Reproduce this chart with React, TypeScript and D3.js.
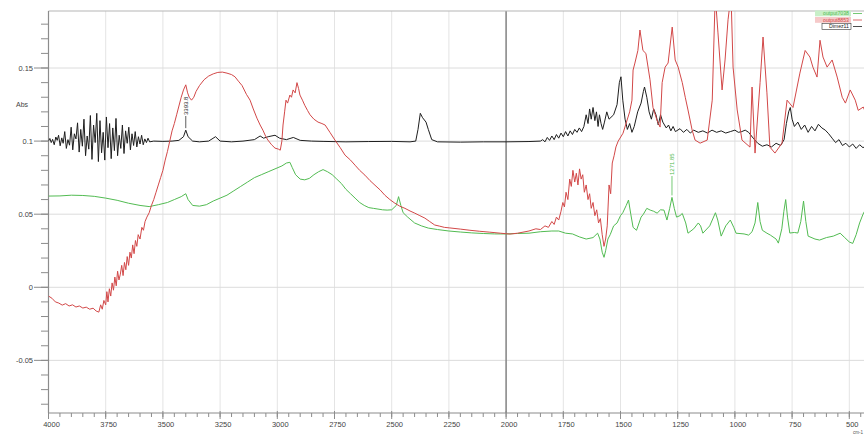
import { useRef, useEffect } from 'react'
import * as d3 from 'd3'

// spectra: [wavenumber cm-1, absorbance]
const dimez11: [number, number][] = [
  [4000, 0.1000], [3994, 0.1018], [3988, 0.0990], [3982, 0.1012], [3975, 0.0975], [3968, 0.1028],
  [3962, 0.1005], [3956, 0.1040], [3949, 0.0968], [3942, 0.1022], [3936, 0.0985], [3929, 0.1065],
  [3922, 0.0950], [3915, 0.1010], [3908, 0.0972], [3901, 0.1095], [3894, 0.0940], [3887, 0.1050],
  [3880, 0.1015], [3873, 0.1125], [3866, 0.0925], [3859, 0.1080], [3852, 0.0965], [3845, 0.1150],
  [3838, 0.0900], [3831, 0.1035], [3824, 0.0945], [3817, 0.1175], [3810, 0.0875], [3803, 0.1110],
  [3796, 0.0990], [3789, 0.1190], [3782, 0.0860], [3775, 0.1140], [3768, 0.0920], [3761, 0.1060],
  [3754, 0.0870], [3747, 0.1165], [3740, 0.0955], [3733, 0.1120], [3726, 0.0880], [3719, 0.1090],
  [3712, 0.0935], [3705, 0.1155], [3698, 0.0900], [3691, 0.1040], [3684, 0.0950], [3677, 0.1110],
  [3670, 0.0915], [3663, 0.1070], [3656, 0.0985], [3649, 0.1095], [3642, 0.0940], [3635, 0.1050],
  [3628, 0.0970], [3621, 0.1065], [3614, 0.0960], [3607, 0.1030], [3600, 0.0980], [3593, 0.1040],
  [3586, 0.0975], [3579, 0.1015], [3572, 0.0990], [3565, 0.1020], [3558, 0.0995], [3540, 0.1000],
  [3500, 0.0998], [3460, 0.1000], [3430, 0.1005], [3410, 0.1030], [3400, 0.1075], [3390, 0.1030],
  [3370, 0.1000], [3340, 0.0995], [3300, 0.1000], [3270, 0.1030], [3250, 0.1000], [3200, 0.0995],
  [3150, 0.1000], [3100, 0.1010], [3075, 0.1035], [3060, 0.1020], [3040, 0.1030], [3010, 0.1040],
  [2990, 0.1020], [2960, 0.1010], [2930, 0.1025], [2900, 0.1005], [2850, 0.1000], [2800, 0.0998],
  [2700, 0.0995], [2600, 0.0997], [2500, 0.0998], [2420, 0.0995], [2395, 0.1000], [2385, 0.1080],
  [2375, 0.1190], [2365, 0.1160], [2350, 0.1130], [2340, 0.1080], [2325, 0.1010], [2300, 0.0995],
  [2200, 0.0993], [2100, 0.0995], [2000, 0.0995], [1900, 0.0997], [1850, 0.1000], [1840, 0.1010],
  [1830, 0.0995], [1820, 0.1025], [1810, 0.1005], [1800, 0.1035], [1790, 0.1010], [1780, 0.1045],
  [1770, 0.1020], [1760, 0.1055], [1750, 0.1030], [1740, 0.1065], [1730, 0.1035], [1720, 0.1070],
  [1710, 0.1045], [1700, 0.1080], [1690, 0.1060], [1680, 0.1090], [1670, 0.1065], [1660, 0.1100],
  [1650, 0.1180], [1642, 0.1120], [1635, 0.1220], [1628, 0.1150], [1620, 0.1230], [1612, 0.1140],
  [1605, 0.1200], [1598, 0.1100], [1592, 0.1180], [1585, 0.1120], [1578, 0.1080], [1570, 0.1130],
  [1560, 0.1200], [1550, 0.1150], [1530, 0.1180], [1515, 0.1250], [1505, 0.1400], [1498, 0.1440],
  [1490, 0.1280], [1480, 0.1150], [1470, 0.1080], [1460, 0.1120], [1450, 0.1060], [1440, 0.1100],
  [1425, 0.1200], [1410, 0.1260], [1400, 0.1340], [1395, 0.1370], [1385, 0.1300], [1375, 0.1200],
  [1365, 0.1150], [1355, 0.1220], [1345, 0.1180], [1335, 0.1110], [1325, 0.1180], [1315, 0.1130],
  [1300, 0.1090], [1290, 0.1110], [1280, 0.1070], [1270, 0.1100], [1260, 0.1065], [1240, 0.1085],
  [1225, 0.1060], [1210, 0.1080], [1195, 0.1055], [1180, 0.1075], [1160, 0.1060], [1140, 0.1070],
  [1120, 0.1055], [1100, 0.1075], [1080, 0.1060], [1060, 0.1070], [1040, 0.1055], [1020, 0.1065],
  [1000, 0.1075], [985, 0.1060], [970, 0.1065], [955, 0.1075], [940, 0.1060], [920, 0.1020],
  [900, 0.0985], [880, 0.0965], [860, 0.0975], [840, 0.0960], [820, 0.0985], [800, 0.0970],
  [785, 0.1010], [775, 0.1120], [765, 0.1200], [758, 0.1230], [750, 0.1150], [740, 0.1100],
  [725, 0.1130], [710, 0.1080], [695, 0.1110], [680, 0.1060], [665, 0.1100], [650, 0.1070],
  [635, 0.1115], [620, 0.1090], [605, 0.1075], [590, 0.1050], [575, 0.1020], [560, 0.0990],
  [545, 0.1010], [530, 0.0970], [515, 0.0985], [500, 0.0960], [485, 0.0980], [470, 0.0950],
  [455, 0.0975], [440, 0.0955], [430, 0.0965],
]

const output8853: [number, number][] = [
  [4000, -0.0060], [3985, -0.0075], [3970, -0.0100], [3955, -0.0108], [3940, -0.0122], [3925, -0.0112],
  [3910, -0.0128], [3895, -0.0120], [3880, -0.0135], [3865, -0.0128], [3850, -0.0142], [3835, -0.0136],
  [3820, -0.0150], [3805, -0.0143], [3792, -0.0162], [3780, -0.0170], [3772, -0.0120], [3765, -0.0150],
  [3758, -0.0090], [3750, -0.0120], [3745, -0.0030], [3740, -0.0100], [3734, -0.0010], [3728, -0.0060],
  [3722, 0.0030], [3716, -0.0020], [3710, 0.0070], [3704, 0.0010], [3698, 0.0110], [3692, 0.0050],
  [3686, 0.0090], [3680, 0.0150], [3674, 0.0080], [3668, 0.0170], [3662, 0.0120], [3656, 0.0210],
  [3650, 0.0150], [3644, 0.0240], [3638, 0.0200], [3632, 0.0290], [3626, 0.0230], [3620, 0.0320],
  [3614, 0.0280], [3608, 0.0360], [3600, 0.0330], [3592, 0.0410], [3585, 0.0390], [3578, 0.0450],
  [3570, 0.0480], [3560, 0.0510], [3550, 0.0560], [3540, 0.0600], [3530, 0.0650], [3520, 0.0700],
  [3510, 0.0750], [3500, 0.0800], [3490, 0.0870], [3480, 0.0930], [3470, 0.1000], [3460, 0.1070],
  [3450, 0.1120], [3440, 0.1180], [3430, 0.1240], [3420, 0.1300], [3410, 0.1350], [3400, 0.1385],
  [3392, 0.1330], [3385, 0.1300], [3375, 0.1280], [3365, 0.1300], [3355, 0.1340], [3340, 0.1380],
  [3320, 0.1420], [3300, 0.1445], [3280, 0.1460], [3260, 0.1470], [3240, 0.1472], [3220, 0.1465],
  [3200, 0.1455], [3185, 0.1440], [3170, 0.1410], [3154, 0.1380], [3135, 0.1320], [3119, 0.1280],
  [3105, 0.1220], [3089, 0.1157], [3075, 0.1110], [3063, 0.1075], [3050, 0.1030], [3041, 0.1007],
  [3025, 0.0975], [3010, 0.0952], [2995, 0.0945], [2987, 0.0938], [2980, 0.1000], [2975, 0.1110],
  [2968, 0.1200], [2962, 0.1280], [2955, 0.1260], [2945, 0.1315], [2938, 0.1300], [2931, 0.1350],
  [2922, 0.1330], [2914, 0.1400], [2907, 0.1360], [2901, 0.1315], [2890, 0.1280], [2880, 0.1245],
  [2868, 0.1210], [2857, 0.1180], [2840, 0.1150], [2822, 0.1130], [2805, 0.1120], [2791, 0.1110],
  [2770, 0.1060], [2748, 0.1007], [2725, 0.0955], [2704, 0.0904], [2680, 0.0870], [2660, 0.0835],
  [2640, 0.0800], [2617, 0.0767], [2595, 0.0730], [2573, 0.0698], [2550, 0.0665], [2530, 0.0630],
  [2508, 0.0600], [2486, 0.0575], [2465, 0.0555], [2442, 0.0540], [2420, 0.0522], [2399, 0.0507],
  [2377, 0.0490], [2355, 0.0473], [2334, 0.0450], [2312, 0.0426], [2290, 0.0418], [2270, 0.0410],
  [2246, 0.0406], [2200, 0.0398], [2158, 0.0390], [2115, 0.0383], [2071, 0.0377], [2025, 0.0370],
  [1983, 0.0364], [1950, 0.0370], [1900, 0.0385], [1870, 0.0400], [1850, 0.0395], [1830, 0.0420],
  [1815, 0.0410], [1800, 0.0450], [1790, 0.0430], [1780, 0.0480], [1770, 0.0460], [1760, 0.0520],
  [1752, 0.0580], [1745, 0.0550], [1738, 0.0650], [1730, 0.0600], [1722, 0.0740], [1715, 0.0690],
  [1708, 0.0800], [1700, 0.0720], [1693, 0.0780], [1686, 0.0700], [1679, 0.0810], [1672, 0.0740],
  [1665, 0.0770], [1658, 0.0650], [1650, 0.0700], [1642, 0.0600], [1635, 0.0640], [1628, 0.0540],
  [1620, 0.0580], [1612, 0.0490], [1604, 0.0530], [1596, 0.0440], [1588, 0.0470], [1580, 0.0360],
  [1572, 0.0280], [1565, 0.0330], [1558, 0.0420], [1550, 0.0700], [1543, 0.0640], [1536, 0.0850],
  [1528, 0.0900], [1520, 0.0960], [1510, 0.1000], [1489, 0.1054], [1460, 0.1200], [1450, 0.1280],
  [1445, 0.1486], [1437, 0.1534], [1424, 0.1620], [1415, 0.1760], [1402, 0.1620], [1389, 0.1600],
  [1371, 0.1420], [1358, 0.1230], [1341, 0.1145], [1327, 0.1096], [1318, 0.1400], [1305, 0.1506],
  [1292, 0.1534], [1274, 0.1780], [1261, 0.1555], [1248, 0.1506], [1230, 0.1400], [1217, 0.1300],
  [1205, 0.1213], [1187, 0.1076], [1174, 0.1007], [1152, 0.0986], [1121, 0.1007], [1099, 0.1280],
  [1086, 0.2000], [1074, 0.1740], [1056, 0.1350], [1043, 0.1555], [1030, 0.1830], [1017, 0.2000],
  [1008, 0.1506], [990, 0.1213], [969, 0.1007], [934, 0.0959], [925, 0.1370], [912, 0.0918],
  [890, 0.1400], [877, 0.1712], [860, 0.1330], [847, 0.0959], [825, 0.0918], [794, 0.0986],
  [772, 0.1280], [746, 0.1230], [716, 0.1465], [693, 0.1620], [672, 0.1575], [659, 0.1506],
  [641, 0.1438], [628, 0.1690], [615, 0.1575], [597, 0.1506], [575, 0.1555], [553, 0.1438],
  [531, 0.1300], [517, 0.1260], [496, 0.1350], [474, 0.1280], [461, 0.1210], [439, 0.1233],
  [430, 0.1200],
]

const output7038: [number, number][] = [
  [4000, 0.0624], [3950, 0.0625], [3900, 0.0630], [3850, 0.0628], [3800, 0.0622], [3750, 0.0610],
  [3700, 0.0595], [3650, 0.0575], [3600, 0.0560], [3560, 0.0552], [3520, 0.0565], [3480, 0.0580],
  [3450, 0.0600], [3420, 0.0620], [3400, 0.0640], [3390, 0.0600], [3370, 0.0560], [3340, 0.0555],
  [3310, 0.0565], [3280, 0.0590], [3250, 0.0610], [3220, 0.0630], [3190, 0.0660], [3160, 0.0690],
  [3130, 0.0720], [3100, 0.0750], [3070, 0.0770], [3040, 0.0790], [3010, 0.0810], [2980, 0.0830],
  [2960, 0.0850], [2945, 0.0855], [2935, 0.0820], [2920, 0.0770], [2900, 0.0740], [2880, 0.0735],
  [2860, 0.0745], [2840, 0.0770], [2820, 0.0790], [2800, 0.0805], [2780, 0.0790], [2760, 0.0770],
  [2740, 0.0740], [2720, 0.0710], [2700, 0.0670], [2680, 0.0640], [2660, 0.0610], [2640, 0.0580],
  [2620, 0.0560], [2600, 0.0545], [2580, 0.0540], [2560, 0.0535], [2540, 0.0530], [2520, 0.0528],
  [2500, 0.0530], [2480, 0.0560], [2470, 0.0620], [2460, 0.0560], [2450, 0.0510], [2430, 0.0480],
  [2400, 0.0440], [2370, 0.0420], [2340, 0.0405], [2300, 0.0395], [2250, 0.0385], [2200, 0.0378],
  [2150, 0.0372], [2100, 0.0368], [2050, 0.0365], [2000, 0.0365], [1950, 0.0368], [1900, 0.0370],
  [1850, 0.0380], [1800, 0.0385], [1770, 0.0385], [1740, 0.0370], [1710, 0.0365], [1680, 0.0345],
  [1650, 0.0330], [1620, 0.0340], [1600, 0.0370], [1590, 0.0330], [1580, 0.0240], [1572, 0.0205],
  [1565, 0.0250], [1555, 0.0330], [1545, 0.0360], [1530, 0.0420], [1515, 0.0440], [1500, 0.0490],
  [1490, 0.0510], [1475, 0.0560], [1465, 0.0597], [1455, 0.0500], [1445, 0.0410], [1430, 0.0390],
  [1410, 0.0480], [1400, 0.0500], [1385, 0.0540], [1370, 0.0528], [1355, 0.0520], [1340, 0.0507],
  [1325, 0.0530], [1310, 0.0528], [1297, 0.0460], [1285, 0.0540], [1275, 0.0615], [1265, 0.0540],
  [1255, 0.0480], [1240, 0.0490], [1230, 0.0505], [1215, 0.0440], [1205, 0.0370], [1180, 0.0400],
  [1160, 0.0440], [1150, 0.0420], [1140, 0.0370], [1110, 0.0420], [1085, 0.0510], [1075, 0.0460],
  [1060, 0.0350], [1040, 0.0420], [1020, 0.0460], [1005, 0.0410], [995, 0.0370], [960, 0.0365],
  [940, 0.0357], [925, 0.0380], [912, 0.0440], [900, 0.0580], [890, 0.0450], [880, 0.0390],
  [860, 0.0370], [845, 0.0357], [820, 0.0330], [810, 0.0302], [795, 0.0400], [786, 0.0520],
  [778, 0.0600], [770, 0.0480], [760, 0.0371], [740, 0.0375], [725, 0.0371], [712, 0.0450],
  [700, 0.0590], [690, 0.0450], [680, 0.0350], [650, 0.0330], [630, 0.0323], [600, 0.0340],
  [570, 0.0350], [540, 0.0370], [520, 0.0340], [500, 0.0310], [485, 0.0300], [470, 0.0360],
  [455, 0.0440], [440, 0.0500], [430, 0.0530],
]

const xMajorTicks = [4000, 3750, 3500, 3250, 3000, 2750, 2500, 2250, 2000, 1750, 1500, 1250, 1000, 750, 500]
const yMajorTicks = [-0.05, 0, 0.05, 0.1, 0.15]
const yTickLabels = ['-0.05', '0', '0.05', '0.1', '0.15']
const legendNames = ['output7038', 'output8853', 'Dimez11']
const peakLabels = ['3393.8', '1271.85']

const FONT = '"Liberation Sans", Arial, sans-serif'

function Chart() {
  const chartRef = useRef<HTMLDivElement>(null)

  function renderChart(container: HTMLDivElement | null) {
    if (container === null) return
    const width = 864
    const height = 434
    const left = 48.5
    const top = 11
    const bottom = 413
    const right = 864

    container.innerHTML = ''
    const svg = d3.select(container).append('svg')
      .attr('width', width)
      .attr('height', height)
      .style('position', 'absolute')
      .style('left', 0)
      .style('top', 0)
      .style('background', '#fff')
      .style('font-family', FONT)

    const x = d3.scaleLinear().domain([4000, 500]).range([left, 849.3])
    const y = d3.scaleLinear().domain([-0.086, 0.189]).range([bottom, top])

    svg.append('clipPath').attr('id', 'plotClip')
      .append('rect').attr('x', left).attr('y', top).attr('width', right - left).attr('height', bottom - top)

    // grid
    svg.append('g').selectAll('line').data(xMajorTicks.filter(d => d !== 4000 && d !== 2000)).join('line')
      .attr('x1', d => x(d)).attr('x2', d => x(d)).attr('y1', top).attr('y2', bottom)
      .attr('stroke', '#e4e4e4').attr('stroke-width', 1)
    svg.append('g').selectAll('line').data(yMajorTicks).join('line')
      .attr('x1', left).attr('x2', right).attr('y1', d => y(d)).attr('y2', d => y(d))
      .attr('stroke', '#dcdcdc').attr('stroke-width', 1)
    svg.append('line')
      .attr('x1', x(2000)).attr('x2', x(2000)).attr('y1', top).attr('y2', bottom)
      .attr('stroke', '#8a8a8a').attr('stroke-width', 1.6)

    // frame
    svg.append('line').attr('x1', left).attr('x2', right).attr('y1', top).attr('y2', top)
      .attr('stroke', '#b5b5b5').attr('stroke-width', 1.2)

    // y axis
    const yAxis = svg.append('g').attr('stroke', '#8c8c8c')
    yAxis.append('line').attr('x1', left).attr('x2', left).attr('y1', top).attr('y2', bottom).attr('stroke-width', 1.2)
    yAxis.selectAll('line.minor').data(d3.range(-8, 19).map(d => d / 100)).join('line')
      .attr('class', 'minor')
      .attr('x1', 41).attr('x2', left).attr('y1', d => y(d)).attr('y2', d => y(d))
    yAxis.selectAll('line.major').data(yMajorTicks).join('line')
      .attr('class', 'major')
      .attr('x1', 34).attr('x2', left).attr('y1', d => y(d)).attr('y2', d => y(d))
    svg.append('g').selectAll('text').data(yMajorTicks).join('text')
      .attr('x', 33).attr('y', d => y(d) + 3)
      .attr('text-anchor', 'end').attr('font-size', 7.5).attr('fill', '#444')
      .text((d, i) => yTickLabels[i])
    svg.append('text').attr('x', 22).attr('y', 107).attr('text-anchor', 'middle')
      .attr('font-size', 7).attr('fill', '#444').text('Abs')

    // x axis
    const xAxis = svg.append('g').attr('stroke', '#8c8c8c')
    xAxis.append('line').attr('x1', left).attr('x2', right).attr('y1', bottom).attr('y2', bottom).attr('stroke-width', 1.2)
    xAxis.selectAll('line.minor').data(d3.range(4000, 400, -50)).join('line')
      .attr('class', 'minor')
      .attr('x1', d => x(d)).attr('x2', d => x(d)).attr('y1', bottom).attr('y2', bottom + 4)
    xAxis.selectAll('line.major').data(xMajorTicks).join('line')
      .attr('class', 'major')
      .attr('x1', d => x(d)).attr('x2', d => x(d)).attr('y1', bottom - 2).attr('y2', bottom + 6)
    svg.append('g').selectAll('text').data(xMajorTicks).join('text')
      .attr('x', d => x(d) + 3).attr('y', 427)
      .attr('text-anchor', 'middle').attr('font-size', 7.5).attr('fill', '#444')
      .text(d => String(d))
    svg.append('text').attr('x', 853).attr('y', 433.5).attr('font-size', 4.5).attr('fill', '#555').text('cm-1')

    // spectra
    const line = d3.line<[number, number]>().x(d => x(d[0])).y(d => y(d[1]))
    const plot = svg.append('g').attr('clip-path', 'url(#plotClip)')
    plot.append('path').datum(dimez11).attr('fill', 'none').attr('stroke', '#1e1e1e').attr('stroke-width', 1).attr('d', line)
    plot.append('path').datum(output7038).attr('fill', 'none').attr('stroke', '#52bb52').attr('stroke-width', 1).attr('d', line)
    plot.append('path').datum(output8853).attr('fill', 'none').attr('stroke', '#d24848').attr('stroke-width', 1).attr('d', line)

    // peak annotations
    const blackPeak = dimez11.find(d => d[0] === 3400)!
    const px1 = x(blackPeak[0])
    svg.append('line').attr('x1', px1).attr('x2', px1).attr('y1', y(blackPeak[1]) - 2).attr('y2', 116)
      .attr('stroke', '#333').attr('stroke-width', 0.8)
    svg.append('text').attr('transform', `translate(${px1 + 2},115) rotate(-90)`)
      .attr('font-size', 6).attr('fill', '#222').text(peakLabels[0])
    const greenPeak = output7038.find(d => d[0] === 1275)!
    const px2 = x(greenPeak[0])
    svg.append('line').attr('x1', px2).attr('x2', px2).attr('y1', y(greenPeak[1]) - 2).attr('y2', 176)
      .attr('stroke', '#52bb52').attr('stroke-width', 0.8)
    svg.append('text').attr('transform', `translate(${px2 + 2},175) rotate(-90)`)
      .attr('font-size', 6).attr('fill', '#52bb52').text(peakLabels[1])

    // legend
    const legendColors = ['#52bb52', '#d24848', '#1e1e1e']
    const legendBg = ['#c8efc8', '#f6c9c9', '#ffffff']
    const lg = svg.append('g')
    legendNames.forEach((name, i) => {
      const ly = 15 + i * 6.5
      lg.append('rect').attr('x', i === 2 ? 822 : 815).attr('y', ly - 4.5)
        .attr('width', i === 2 ? 29 : 36).attr('height', 5.8)
        .attr('fill', legendBg[i])
        .attr('stroke', i === 2 ? '#333' : 'none').attr('stroke-width', 0.6)
      lg.append('text').attr('x', 849).attr('y', ly).attr('text-anchor', 'end')
        .attr('font-size', 5.2).attr('fill', legendColors[i]).text(name)
      lg.append('line').attr('x1', 853).attr('x2', 862).attr('y1', ly - 1.5).attr('y2', ly - 1.5)
        .attr('stroke', legendColors[i]).attr('stroke-width', 0.8)
    })
  }

  useEffect(() => {
    renderChart(chartRef.current)
  })

  return <div ref={chartRef}></div>
}

export default function App() {
  return <Chart />
}
